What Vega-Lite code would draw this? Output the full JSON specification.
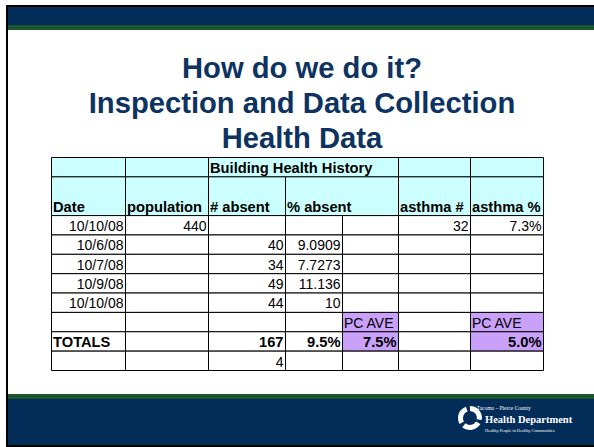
{
  "$schema": "https://vega.github.io/schema/vega-lite/v6.json",
  "width": 594,
  "height": 447,
  "padding": 0,
  "autosize": {"type": "none"},
  "background": "white",
  "config": {"view": {"stroke": null}, "axis": {"disable": true}, "legend": {"disable": true}},
  "resolve": {"scale": {"x": "independent", "y": "independent"}},
  "layer": [
    {
      "data": {"values": [{"piece": "slide frame"}]},
      "layer": [
        {
          "mark": {"type": "rect", "color": "#000000"},
          "encoding": {
            "x": {"datum": 0.101, "scale": {"domain": [0, 10], "range": [0, 594], "nice": false, "zero": false}},
            "x2": {"datum": 10},
            "y": {"datum": 0.0839, "scale": {"domain": [0, 7.5], "range": [0, 447], "nice": false, "zero": false}},
            "y2": {"datum": 7.5}
          }
        },
        {
          "mark": {"type": "rect", "color": "#ffffff"},
          "encoding": {"x": {"datum": 0.1347}, "x2": {"datum": 10}, "y": {"datum": 0.1174}, "y2": {"datum": 7.4664}}
        },
        {
          "mark": {"type": "rect", "color": "#032d59"},
          "encoding": {"x": {"datum": 0.1347}, "x2": {"datum": 10}, "y": {"datum": 0.1174}, "y2": {"datum": 0.4195}}
        },
        {
          "mark": {"type": "rect", "color": "#1d5530"},
          "encoding": {"x": {"datum": 0.1347}, "x2": {"datum": 10}, "y": {"datum": 0.4195}, "y2": {"datum": 0.5034}}
        },
        {
          "mark": {"type": "rect", "color": "#1d5530"},
          "encoding": {"x": {"datum": 0.1347}, "x2": {"datum": 10}, "y": {"datum": 6.611}, "y2": {"datum": 6.695}}
        },
        {
          "mark": {"type": "rect", "color": "#032d59"},
          "encoding": {"x": {"datum": 0.1347}, "x2": {"datum": 10}, "y": {"datum": 6.695}, "y2": {"datum": 7.4664}}
        },
        {
          "data": {"values": [
            {"piece": "a", "sweep": 100}, {"piece": "gap", "sweep": 20},
            {"piece": "b", "sweep": 100}, {"piece": "gap", "sweep": 20},
            {"piece": "c", "sweep": 100}, {"piece": "gap", "sweep": 20}
          ]},
          "mark": {"type": "arc", "radius": 12, "radius2": 7},
          "encoding": {
            "theta": {"field": "sweep", "type": "quantitative", "stack": true},
            "color": {"condition": {"test": "datum.piece === 'gap'", "value": "transparent"}, "value": "#ffffff"},
            "x": {"datum": 7.912},
            "y": {"datum": 7.013}
          }
        },
        {
          "mark": {"type": "text", "align": "left", "baseline": "middle", "font": "Liberation Serif", "fontSize": 5.5, "color": "#ffffff"},
          "encoding": {"text": {"value": "Tacoma – Pierce County"}, "x": {"datum": 8.025}, "y": {"datum": 6.851}}
        },
        {
          "mark": {"type": "text", "align": "left", "baseline": "middle", "font": "Liberation Serif", "fontSize": 10.5, "fontWeight": "bold", "color": "#ffffff"},
          "encoding": {"text": {"value": "Health Department"}, "x": {"datum": 8.165}, "y": {"datum": 7.047}}
        },
        {
          "mark": {"type": "text", "align": "left", "baseline": "middle", "font": "Liberation Serif", "fontSize": 4.3, "color": "#ffffff"},
          "encoding": {"text": {"value": "Healthy People in Healthy Communities"}, "x": {"datum": 8.165}, "y": {"datum": 7.232}}
        }
      ]
    },
    {
      "data": {"values": [
        {"line": 1, "text": "How do we do it?"},
        {"line": 2, "text": "Inspection and Data Collection"},
        {"line": 3, "text": "Health Data"}
      ]},
      "mark": {"type": "text", "font": "Liberation Sans", "fontSize": 29.2, "fontWeight": "bold", "color": "#0c3362", "align": "center", "baseline": "alphabetic"},
      "encoding": {
        "text": {"field": "text"},
        "x": {"datum": 0.5, "scale": {"domain": [0, 1], "range": [8, 596], "nice": false, "zero": false}},
        "y": {"field": "line", "type": "quantitative", "scale": {"domain": [1, 3], "range": [78.3, 148.3], "nice": false, "zero": false}}
      }
    },
    {
      "data": {"values": [
        {"r0": 0, "r1": 1, "c0": 0, "c1": 1, "text": "", "part": "header", "kind": "text"},
        {"r0": 0, "r1": 1, "c0": 1, "c1": 2, "text": "", "part": "header", "kind": "text"},
        {"r0": 0, "r1": 1, "c0": 2, "c1": 5, "text": "Building Health History", "part": "header", "kind": "text"},
        {"r0": 0, "r1": 1, "c0": 5, "c1": 6, "text": "", "part": "header", "kind": "text"},
        {"r0": 0, "r1": 1, "c0": 6, "c1": 7, "text": "", "part": "header", "kind": "text"},
        {"r0": 1, "r1": 3, "c0": 0, "c1": 1, "text": "Date", "part": "header", "kind": "text"},
        {"r0": 1, "r1": 3, "c0": 1, "c1": 2, "text": "population", "part": "header", "kind": "text"},
        {"r0": 1, "r1": 3, "c0": 2, "c1": 3, "text": "# absent", "part": "header", "kind": "text"},
        {"r0": 1, "r1": 3, "c0": 3, "c1": 5, "text": "% absent", "part": "header", "kind": "text"},
        {"r0": 1, "r1": 3, "c0": 5, "c1": 6, "text": "asthma #", "part": "header", "kind": "text"},
        {"r0": 1, "r1": 3, "c0": 6, "c1": 7, "text": "asthma %", "part": "header", "kind": "text"},

        {"r0": 3, "r1": 4, "c0": 0, "c1": 1, "text": "10/10/08", "part": "body", "kind": "number"},
        {"r0": 3, "r1": 4, "c0": 1, "c1": 2, "text": "440", "part": "body", "kind": "number"},
        {"r0": 3, "r1": 4, "c0": 2, "c1": 3, "text": "", "part": "body", "kind": "number"},
        {"r0": 3, "r1": 4, "c0": 3, "c1": 4, "text": "", "part": "body", "kind": "number"},
        {"r0": 3, "r1": 4, "c0": 4, "c1": 5, "text": "", "part": "body", "kind": "number"},
        {"r0": 3, "r1": 4, "c0": 5, "c1": 6, "text": "32", "part": "body", "kind": "number"},
        {"r0": 3, "r1": 4, "c0": 6, "c1": 7, "text": "7.3%", "part": "body", "kind": "number"},

        {"r0": 4, "r1": 5, "c0": 0, "c1": 1, "text": "10/6/08", "part": "body", "kind": "number"},
        {"r0": 4, "r1": 5, "c0": 1, "c1": 2, "text": "", "part": "body", "kind": "number"},
        {"r0": 4, "r1": 5, "c0": 2, "c1": 3, "text": "40", "part": "body", "kind": "number"},
        {"r0": 4, "r1": 5, "c0": 3, "c1": 4, "text": "9.0909", "part": "body", "kind": "number"},
        {"r0": 4, "r1": 5, "c0": 4, "c1": 5, "text": "", "part": "body", "kind": "number"},
        {"r0": 4, "r1": 5, "c0": 5, "c1": 6, "text": "", "part": "body", "kind": "number"},
        {"r0": 4, "r1": 5, "c0": 6, "c1": 7, "text": "", "part": "body", "kind": "number"},

        {"r0": 5, "r1": 6, "c0": 0, "c1": 1, "text": "10/7/08", "part": "body", "kind": "number"},
        {"r0": 5, "r1": 6, "c0": 1, "c1": 2, "text": "", "part": "body", "kind": "number"},
        {"r0": 5, "r1": 6, "c0": 2, "c1": 3, "text": "34", "part": "body", "kind": "number"},
        {"r0": 5, "r1": 6, "c0": 3, "c1": 4, "text": "7.7273", "part": "body", "kind": "number"},
        {"r0": 5, "r1": 6, "c0": 4, "c1": 5, "text": "", "part": "body", "kind": "number"},
        {"r0": 5, "r1": 6, "c0": 5, "c1": 6, "text": "", "part": "body", "kind": "number"},
        {"r0": 5, "r1": 6, "c0": 6, "c1": 7, "text": "", "part": "body", "kind": "number"},

        {"r0": 6, "r1": 7, "c0": 0, "c1": 1, "text": "10/9/08", "part": "body", "kind": "number"},
        {"r0": 6, "r1": 7, "c0": 1, "c1": 2, "text": "", "part": "body", "kind": "number"},
        {"r0": 6, "r1": 7, "c0": 2, "c1": 3, "text": "49", "part": "body", "kind": "number"},
        {"r0": 6, "r1": 7, "c0": 3, "c1": 4, "text": "11.136", "part": "body", "kind": "number"},
        {"r0": 6, "r1": 7, "c0": 4, "c1": 5, "text": "", "part": "body", "kind": "number"},
        {"r0": 6, "r1": 7, "c0": 5, "c1": 6, "text": "", "part": "body", "kind": "number"},
        {"r0": 6, "r1": 7, "c0": 6, "c1": 7, "text": "", "part": "body", "kind": "number"},

        {"r0": 7, "r1": 8, "c0": 0, "c1": 1, "text": "10/10/08", "part": "body", "kind": "number"},
        {"r0": 7, "r1": 8, "c0": 1, "c1": 2, "text": "", "part": "body", "kind": "number"},
        {"r0": 7, "r1": 8, "c0": 2, "c1": 3, "text": "44", "part": "body", "kind": "number"},
        {"r0": 7, "r1": 8, "c0": 3, "c1": 4, "text": "10", "part": "body", "kind": "number"},
        {"r0": 7, "r1": 8, "c0": 4, "c1": 5, "text": "", "part": "body", "kind": "number"},
        {"r0": 7, "r1": 8, "c0": 5, "c1": 6, "text": "", "part": "body", "kind": "number"},
        {"r0": 7, "r1": 8, "c0": 6, "c1": 7, "text": "", "part": "body", "kind": "number"},

        {"r0": 8, "r1": 9, "c0": 0, "c1": 1, "text": "", "part": "body", "kind": "number"},
        {"r0": 8, "r1": 9, "c0": 1, "c1": 2, "text": "", "part": "body", "kind": "number"},
        {"r0": 8, "r1": 9, "c0": 2, "c1": 3, "text": "", "part": "body", "kind": "number"},
        {"r0": 8, "r1": 9, "c0": 3, "c1": 4, "text": "", "part": "body", "kind": "number"},
        {"r0": 8, "r1": 9, "c0": 4, "c1": 5, "text": "PC AVE", "part": "body", "kind": "text", "pc": true},
        {"r0": 8, "r1": 9, "c0": 5, "c1": 6, "text": "", "part": "body", "kind": "number"},
        {"r0": 8, "r1": 9, "c0": 6, "c1": 7, "text": "PC AVE", "part": "body", "kind": "text", "pc": true},

        {"r0": 9, "r1": 10, "c0": 0, "c1": 1, "text": "TOTALS", "part": "totals", "kind": "text"},
        {"r0": 9, "r1": 10, "c0": 1, "c1": 2, "text": "", "part": "totals", "kind": "number"},
        {"r0": 9, "r1": 10, "c0": 2, "c1": 3, "text": "167", "part": "totals", "kind": "number"},
        {"r0": 9, "r1": 10, "c0": 3, "c1": 4, "text": "9.5%", "part": "totals", "kind": "number"},
        {"r0": 9, "r1": 10, "c0": 4, "c1": 5, "text": "7.5%", "part": "totals", "kind": "number", "pc": true},
        {"r0": 9, "r1": 10, "c0": 5, "c1": 6, "text": "", "part": "totals", "kind": "number"},
        {"r0": 9, "r1": 10, "c0": 6, "c1": 7, "text": "5.0%", "part": "totals", "kind": "number", "pc": true},

        {"r0": 10, "r1": 11, "c0": 0, "c1": 1, "text": "", "part": "body", "kind": "number"},
        {"r0": 10, "r1": 11, "c0": 1, "c1": 2, "text": "", "part": "body", "kind": "number"},
        {"r0": 10, "r1": 11, "c0": 2, "c1": 3, "text": "4", "part": "body", "kind": "number"},
        {"r0": 10, "r1": 11, "c0": 3, "c1": 4, "text": "", "part": "body", "kind": "number"},
        {"r0": 10, "r1": 11, "c0": 4, "c1": 5, "text": "", "part": "body", "kind": "number"},
        {"r0": 10, "r1": 11, "c0": 5, "c1": 6, "text": "", "part": "body", "kind": "number"},
        {"r0": 10, "r1": 11, "c0": 6, "c1": 7, "text": "", "part": "body", "kind": "number"}
      ]},
      "layer": [
        {
          "mark": {"type": "rect", "stroke": "#000000", "strokeWidth": 1},
          "encoding": {
            "x": {"field": "c0", "type": "quantitative", "scale": {"domain": [0, 1, 2, 3, 4, 5, 6, 7], "range": [51.5, 125.5, 208.5, 285.5, 342.5, 398.5, 470.5, 543.5], "nice": false, "zero": false}},
            "x2": {"field": "c1"},
            "y": {"field": "r0", "type": "quantitative", "scale": {"domain": [0, 11], "range": [157.5, 370.5], "nice": false, "zero": false}},
            "y2": {"field": "r1"},
            "fill": {
              "condition": {"test": "datum.pc === true", "value": "#c9a0fa"},
              "field": "part", "type": "nominal",
              "scale": {"domain": ["header", "body", "totals"], "range": ["#ccffff", "#ffffff", "#ffffff"]},
              "legend": null
            }
          }
        },
        {
          "transform": [{"filter": "datum.text !== '' && datum.kind === 'text' && datum.part !== 'body'"}],
          "mark": {"type": "text", "align": "left", "baseline": "alphabetic", "dx": 1.5, "dy": -4, "font": "Liberation Sans", "fontSize": 14.7, "fontWeight": "bold", "color": "#000000"},
          "encoding": {"text": {"field": "text"}, "x": {"field": "c0", "type": "quantitative"}, "y": {"field": "r1", "type": "quantitative"}}
        },
        {
          "transform": [{"filter": "datum.text !== '' && datum.kind === 'text' && datum.part === 'body'"}],
          "mark": {"type": "text", "align": "left", "baseline": "alphabetic", "dx": 1.5, "dy": -4, "font": "Liberation Sans", "fontSize": 14, "color": "#000000"},
          "encoding": {"text": {"field": "text"}, "x": {"field": "c0", "type": "quantitative"}, "y": {"field": "r1", "type": "quantitative"}}
        },
        {
          "transform": [{"filter": "datum.text !== '' && datum.kind === 'number' && datum.part !== 'body'"}],
          "mark": {"type": "text", "align": "right", "baseline": "alphabetic", "dx": -2, "dy": -4, "font": "Liberation Sans", "fontSize": 14.7, "fontWeight": "bold", "color": "#000000"},
          "encoding": {"text": {"field": "text"}, "x": {"field": "c1", "type": "quantitative"}, "y": {"field": "r1", "type": "quantitative"}}
        },
        {
          "transform": [{"filter": "datum.text !== '' && datum.kind === 'number' && datum.part === 'body'"}],
          "mark": {"type": "text", "align": "right", "baseline": "alphabetic", "dx": -2, "dy": -4, "font": "Liberation Sans", "fontSize": 14, "color": "#000000"},
          "encoding": {"text": {"field": "text"}, "x": {"field": "c1", "type": "quantitative"}, "y": {"field": "r1", "type": "quantitative"}}
        }
      ]
    }
  ]
}
